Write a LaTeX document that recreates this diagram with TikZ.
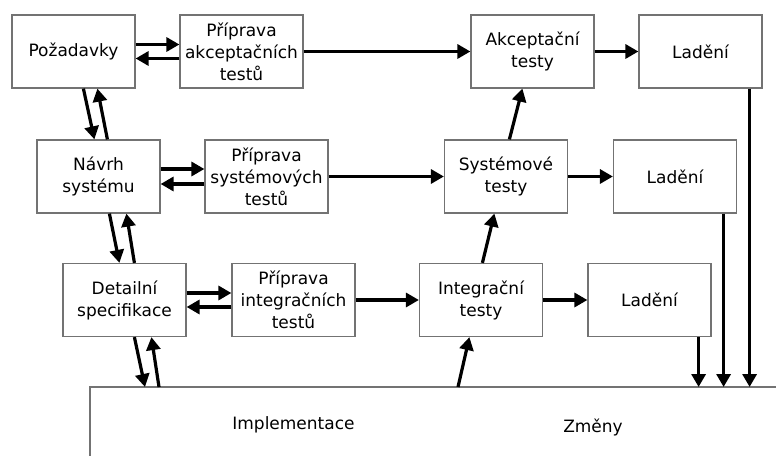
\documentclass[tikz,border=0pt]{standalone}
\usepackage{fontspec}
\setmainfont{DejaVu Sans}
\usetikzlibrary{arrows.meta,calc}

\begin{document}
\begin{tikzpicture}[x=1bp,y=-1bp,
  box/.style={draw=black!55, line width=1.2bp, fill=white,
    minimum width=123bp, minimum height=73bp, inner sep=0pt,
    align=center, font=\fontsize{17bp}{22bp}\selectfont},
  flow/.style={line width=3.2bp, -{Triangle[length=13bp,width=14bp]}},
  lbl/.style={font=\fontsize{17bp}{22bp}\selectfont, inner sep=0pt}]

\useasboundingbox (0,0) rectangle (776,456);

% row 1: requirements and acceptance testing
\node[box] (poz)  at (73.5,51.5)  {Požadavky};
\node[box] (ppa)  at (241.5,51.5) {Příprava\\akceptačních\\testů};
\node[box] (akc)  at (532.5,51.5) {Akceptační\\testy};
\node[box] (lad1) at (700.5,51.5) {Ladění};

% row 2: system design and system testing
\node[box] (nav)  at (98.5,176.5) {Návrh\\systému};
\node[box] (pps)  at (266.5,176.5) {Příprava\\systémových\\testů};
\node[box] (sys)  at (506,176.5)  {Systémové\\testy};
\node[box] (lad2) at (675,176.5)  {Ladění};

% row 3: detailed specification and integration testing
\node[box] (det)  at (124.5,300)  {Detailní\\specifikace};
\node[box] (ppi)  at (293.5,300)  {Příprava\\integračních\\testů};
\node[box] (int)  at (481,300)    {Integrační\\testy};
\node[box] (lad3) at (649.5,300)  {Ladění};

% open base block (implementation / changes)
\node[anchor=north west, minimum width=700bp, minimum height=80bp,
      inner sep=0pt] (base) at (90,387) {};
\draw[draw=black!55, line width=1.2bp]
  (base.south west) -- (base.north west) -- (base.north east);
\node[lbl] (impl) at (293.5,425) {Implementace};
\node[lbl] (zm)   at (593,427)   {Změny};

% preparation loops
\draw[flow] ($(poz.east)+(0,-7)$) -- ($(ppa.west)+(0,-7)$);
\draw[flow] ($(ppa.west)+(0,7)$)  -- ($(poz.east)+(0,7)$);
\draw[flow] ($(nav.east)+(0,-7.5)$) -- ($(pps.west)+(0,-7.5)$);
\draw[flow] ($(pps.west)+(0,7.5)$)  -- ($(nav.east)+(0,7.5)$);
\draw[flow] ($(det.east)+(0,-7)$) -- ($(ppi.west)+(0,-7)$);
\draw[flow] ($(ppi.west)+(0,7)$)  -- ($(det.east)+(0,7)$);

% preparation feeds testing, testing feeds debugging
\draw[flow] (ppa) -- (akc);
\draw[flow] (akc) -- (lad1);
\draw[flow] (pps) -- (sys);
\draw[flow] (sys) -- (lad2);
\draw[flow] (ppi) -- (int);
\draw[flow] (int) -- (lad3);

% descending design steps
\draw[flow] ($(poz.south west)+(72,0)$) -- ($(nav.north west)+(58,0)$);
\draw[flow] ($(nav.north west)+(71,0)$) -- ($(poz.south west)+(86,0)$);
\draw[flow] ($(nav.south west)+(73,0)$) -- ($(det.north west)+(57,0)$);
\draw[flow] ($(det.north west)+(72,0)$) -- ($(nav.south west)+(90,0)$);
\draw[flow] ($(det.south west)+(72,0)$) -- ($(base.north west)+(55,0)$);
\draw[flow] ($(base.north west)+(69,0)$) -- ($(det.south west)+(89,0)$);

% ascending test steps
\draw[flow] ($(base.north west)+(368,0)$) -- ($(int.south west)+(50.5,0)$);
\draw[flow] ($(int.north west)+(63.5,0)$) -- ($(sys.south west)+(50.5,0)$);
\draw[flow] ($(sys.north west)+(65.5,0)$) -- ($(akc.south west)+(52,0)$);

% debugging results go to changes
\coordinate (d1) at ($(lad1.south east)+(-13,0)$);
\coordinate (d2) at ($(lad2.south east)+(-13.5,0)$);
\coordinate (d3) at ($(lad3.south east)+(-13,0)$);
\draw[flow] (d1) -- (d1 |- base.north);
\draw[flow] (d2) -- (d2 |- base.north);
\draw[flow] (d3) -- (d3 |- base.north);

\end{tikzpicture}
\end{document}
